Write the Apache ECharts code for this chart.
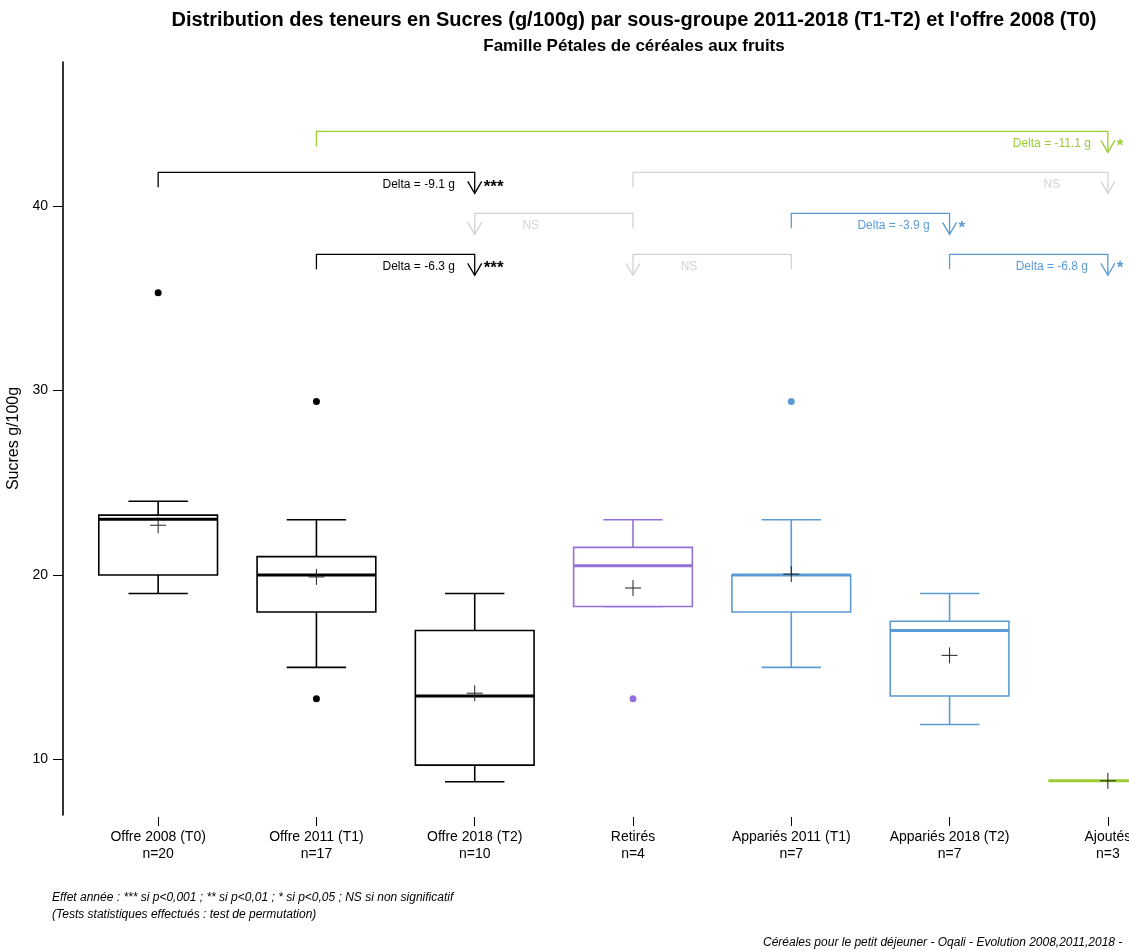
<!DOCTYPE html>
<html>
<head>
<meta charset="utf-8">
<script src="https://cdn.jsdelivr.net/npm/echarts@6/dist/echarts.min.js"></script>
<style>html,body{margin:0;padding:0;background:#fff;}#c{width:1129px;height:951px;}</style>
</head>
<body>
<div id="c"></div>
<script>
// ---- data ----
const categories = ['Offre 2008 (T0)', 'Offre 2011 (T1)', 'Offre 2018 (T2)', 'Retirés', 'Appariés 2011 (T1)', 'Appariés 2018 (T2)', 'Ajoutés'];
const counts = [20, 17, 10, 4, 7, 7, 3];
const boxLow    = [19.0, 15.0, 8.8, 18.3, 15.0, 11.9, 8.85];
const boxQ1     = [20.0, 18.0, 9.7, 18.3, 18.0, 13.45, 8.85];
const boxMedian = [23.03, 20.0, 13.45, 20.5, 20.0, 17.0, 8.85];
const boxQ3     = [23.25, 21.0, 17.0, 21.5, 20.0, 17.5, 8.85];
const boxHigh   = [24.0, 23.0, 19.0, 23.0, 23.0, 19.0, 8.85];
const means     = [22.7, 19.9, 13.6, 19.3, 20.05, 15.65, 8.85];
const outlierGroup = [0, 1, 1, 3, 4];
const outlierValue = [35.3, 29.4, 13.3, 13.3, 29.4];
const yTicks = [10, 20, 30, 40];

// comparisons: bracket from group (drop end) to group (arrow end)
const compFrom   = [1, 0, 3, 3, 4, 1, 4, 5];
const compTo     = [6, 2, 6, 2, 5, 2, 3, 6];
const compLevel  = [44.04, 41.82, 41.82, 39.6, 39.6, 37.38, 37.38, 37.38];
const compLabel  = ['Delta = -11.1 g', 'Delta = -9.1 g', 'NS', 'NS', 'Delta = -3.9 g', 'Delta = -6.3 g', 'NS', 'Delta = -6.8 g'];
const compStars  = ['*', '***', '', '', '*', '***', '', '*'];
const compKind   = ['green', 'black', 'gray', 'gray', 'blue', 'black', 'gray', 'blue'];

// ---- styles ----
const palette = { black: '#000000', purple: '#9370DB', blue: '#5B9BD5', green: '#9ACD32', gray: '#D3D3D3' };
const groupColor = [palette.black, palette.black, palette.black, palette.purple, palette.blue, palette.blue, palette.green];
const FONT = '"Liberation Sans", Arial, sans-serif';

const boxData = categories.map((c, i) => [i, boxLow[i], boxQ1[i], boxMedian[i], boxQ3[i], boxHigh[i], means[i]]);
const outlierData = outlierGroup.map((g, i) => ({ value: [g, outlierValue[i]], itemStyle: { color: groupColor[g], opacity: 1 } }));
const compData = compFrom.map((f, i) => [f, compTo[i], compLevel[i], i]);

const chart = echarts.init(document.getElementById('c'), null, { renderer: 'canvas' });

function renderBox(params, api) {
  const i = api.value(0);
  const col = groupColor[i];
  const band = api.size([1, 0])[0];
  const w = band * 0.75;
  const cap = w / 2;
  const pLow = api.coord([i, api.value(1)]);
  const pQ1 = api.coord([i, api.value(2)]);
  const pMed = api.coord([i, api.value(3)]);
  const pQ3 = api.coord([i, api.value(4)]);
  const pHigh = api.coord([i, api.value(5)]);
  const pMean = api.coord([i, api.value(6)]);
  const x = pMed[0];
  const lw = 1.6;
  const ls = { stroke: col, lineWidth: lw, fill: null };
  const children = [
    { type: 'line', shape: { x1: x, y1: pHigh[1], x2: x, y2: pQ3[1] }, style: ls },
    { type: 'line', shape: { x1: x, y1: pLow[1], x2: x, y2: pQ1[1] }, style: ls },
    { type: 'line', shape: { x1: x - cap / 2, y1: pHigh[1], x2: x + cap / 2, y2: pHigh[1] }, style: ls },
    { type: 'line', shape: { x1: x - cap / 2, y1: pLow[1], x2: x + cap / 2, y2: pLow[1] }, style: ls },
    { type: 'rect', shape: { x: x - w / 2, y: pQ3[1], width: w, height: pQ1[1] - pQ3[1] }, style: { stroke: col, lineWidth: lw, fill: '#fff' } },
    { type: 'line', shape: { x1: x - w / 2, y1: pMed[1], x2: x + w / 2, y2: pMed[1] }, style: { stroke: col, lineWidth: 3 } },
    { type: 'line', shape: { x1: x - 8, y1: pMean[1], x2: x + 8, y2: pMean[1] }, style: { stroke: '#222', lineWidth: 1 } },
    { type: 'line', shape: { x1: x, y1: pMean[1] - 8, x2: x, y2: pMean[1] + 8 }, style: { stroke: '#222', lineWidth: 1 } }
  ];
  return { type: 'group', children: children };
}

function renderComp(params, api) {
  const f = api.value(0), t = api.value(1), lvl = api.value(2), k = api.value(3);
  const col = palette[compKind[k]];
  const p1 = api.coord([f, lvl]);
  const p2 = api.coord([t, lvl]);
  const dir = t > f ? 1 : -1;
  const st = { stroke: col, lineWidth: 1.3, fill: null };
  const children = [
    { type: 'polyline', shape: { points: [[p1[0], p1[1] + 15], [p1[0], p1[1]], [p2[0], p2[1]], [p2[0], p2[1] + 21]] }, style: st },
    { type: 'polyline', shape: { points: [[p2[0] - 7, p2[1] + 9], [p2[0], p2[1] + 21], [p2[0] + 7, p2[1] + 9]] }, style: st },
    { type: 'text', x: p2[0] - dir * 56, y: p2[1] + 12, style: { text: compLabel[k], fill: col, font: '12px ' + FONT, align: 'center', verticalAlign: 'middle' } }
  ];
  if (compStars[k]) {
    children.push({ type: 'text', x: p2[0] + 9, y: p2[1] + 14.5, style: { text: compStars[k], fill: col, font: 'bold 17px ' + FONT, align: 'left', verticalAlign: 'middle' } });
  }
  return { type: 'group', children: children };
}

const option = {
  backgroundColor: '#fff',
  animation: false,
  textStyle: { fontFamily: FONT },
  grid: { left: 79, right: -58, top: 62, bottom: 136, containLabel: false, outerBoundsMode: 'none' },
  xAxis: {
    type: 'category',
    data: categories,
    offset: 2,
    axisLine: { show: false },
    axisTick: { show: true, alignWithLabel: true, length: 9, lineStyle: { color: '#000', width: 1 } },
    axisLabel: {
      margin: 12, color: '#000', fontSize: 14, lineHeight: 17, fontFamily: FONT,
      formatter: (v, i) => v + '\nn=' + counts[i]
    },
    splitLine: { show: false }
  },
  yAxis: {
    type: 'value',
    min: 7, max: 47.8,
    offset: 16,
    name: 'Sucres g/100g',
    nameLocation: 'middle',
    nameGap: 35,
    nameRotate: 90,
    nameTextStyle: { color: '#000', fontSize: 16, fontFamily: FONT },
    axisLine: { show: true, lineStyle: { color: '#000', width: 1.6 } },
    axisTick: { show: true, customValues: yTicks, length: 10, lineStyle: { color: '#000', width: 1 } },
    axisLabel: { customValues: yTicks, margin: 15, color: '#000', fontSize: 14, fontFamily: FONT },
    splitLine: { show: false }
  },
  series: [
    { type: 'custom', name: 'boxes', renderItem: renderBox, data: boxData, clip: false, z: 2 },
    { type: 'scatter', name: 'outliers', data: outlierData, symbol: 'circle', symbolSize: 7, z: 3 },
    { type: 'custom', name: 'comparisons', renderItem: renderComp, data: compData, clip: false, z: 4 }
  ],
  graphic: [
    { type: 'text', x: 634, y: 20, style: { text: "Distribution des teneurs en Sucres (g/100g) par sous-groupe 2011-2018 (T1-T2) et l'offre 2008 (T0)", font: 'bold 20px ' + FONT, fill: '#000', align: 'center', verticalAlign: 'middle' } },
    { type: 'text', x: 634, y: 46, style: { text: 'Famille Pétales de céréales aux fruits', font: 'bold 17px ' + FONT, fill: '#000', align: 'center', verticalAlign: 'middle' } },
    { type: 'text', x: 52, y: 898, style: { text: 'Effet année : *** si p<0,001 ; ** si p<0,01 ; * si p<0,05 ; NS si non significatif', font: 'italic 12px ' + FONT, fill: '#000', align: 'left', verticalAlign: 'middle' } },
    { type: 'text', x: 52, y: 915, style: { text: '(Tests statistiques effectués : test de permutation)', font: 'italic 12px ' + FONT, fill: '#000', align: 'left', verticalAlign: 'middle' } },
    { type: 'text', x: 763, y: 943, style: { text: 'Céréales pour le petit déjeuner - Oqali - Evolution 2008,2011,2018 - ', font: 'italic 12px ' + FONT, fill: '#000', align: 'left', verticalAlign: 'middle' } }
  ]
};
chart.setOption(option);
</script>
</body>
</html>
